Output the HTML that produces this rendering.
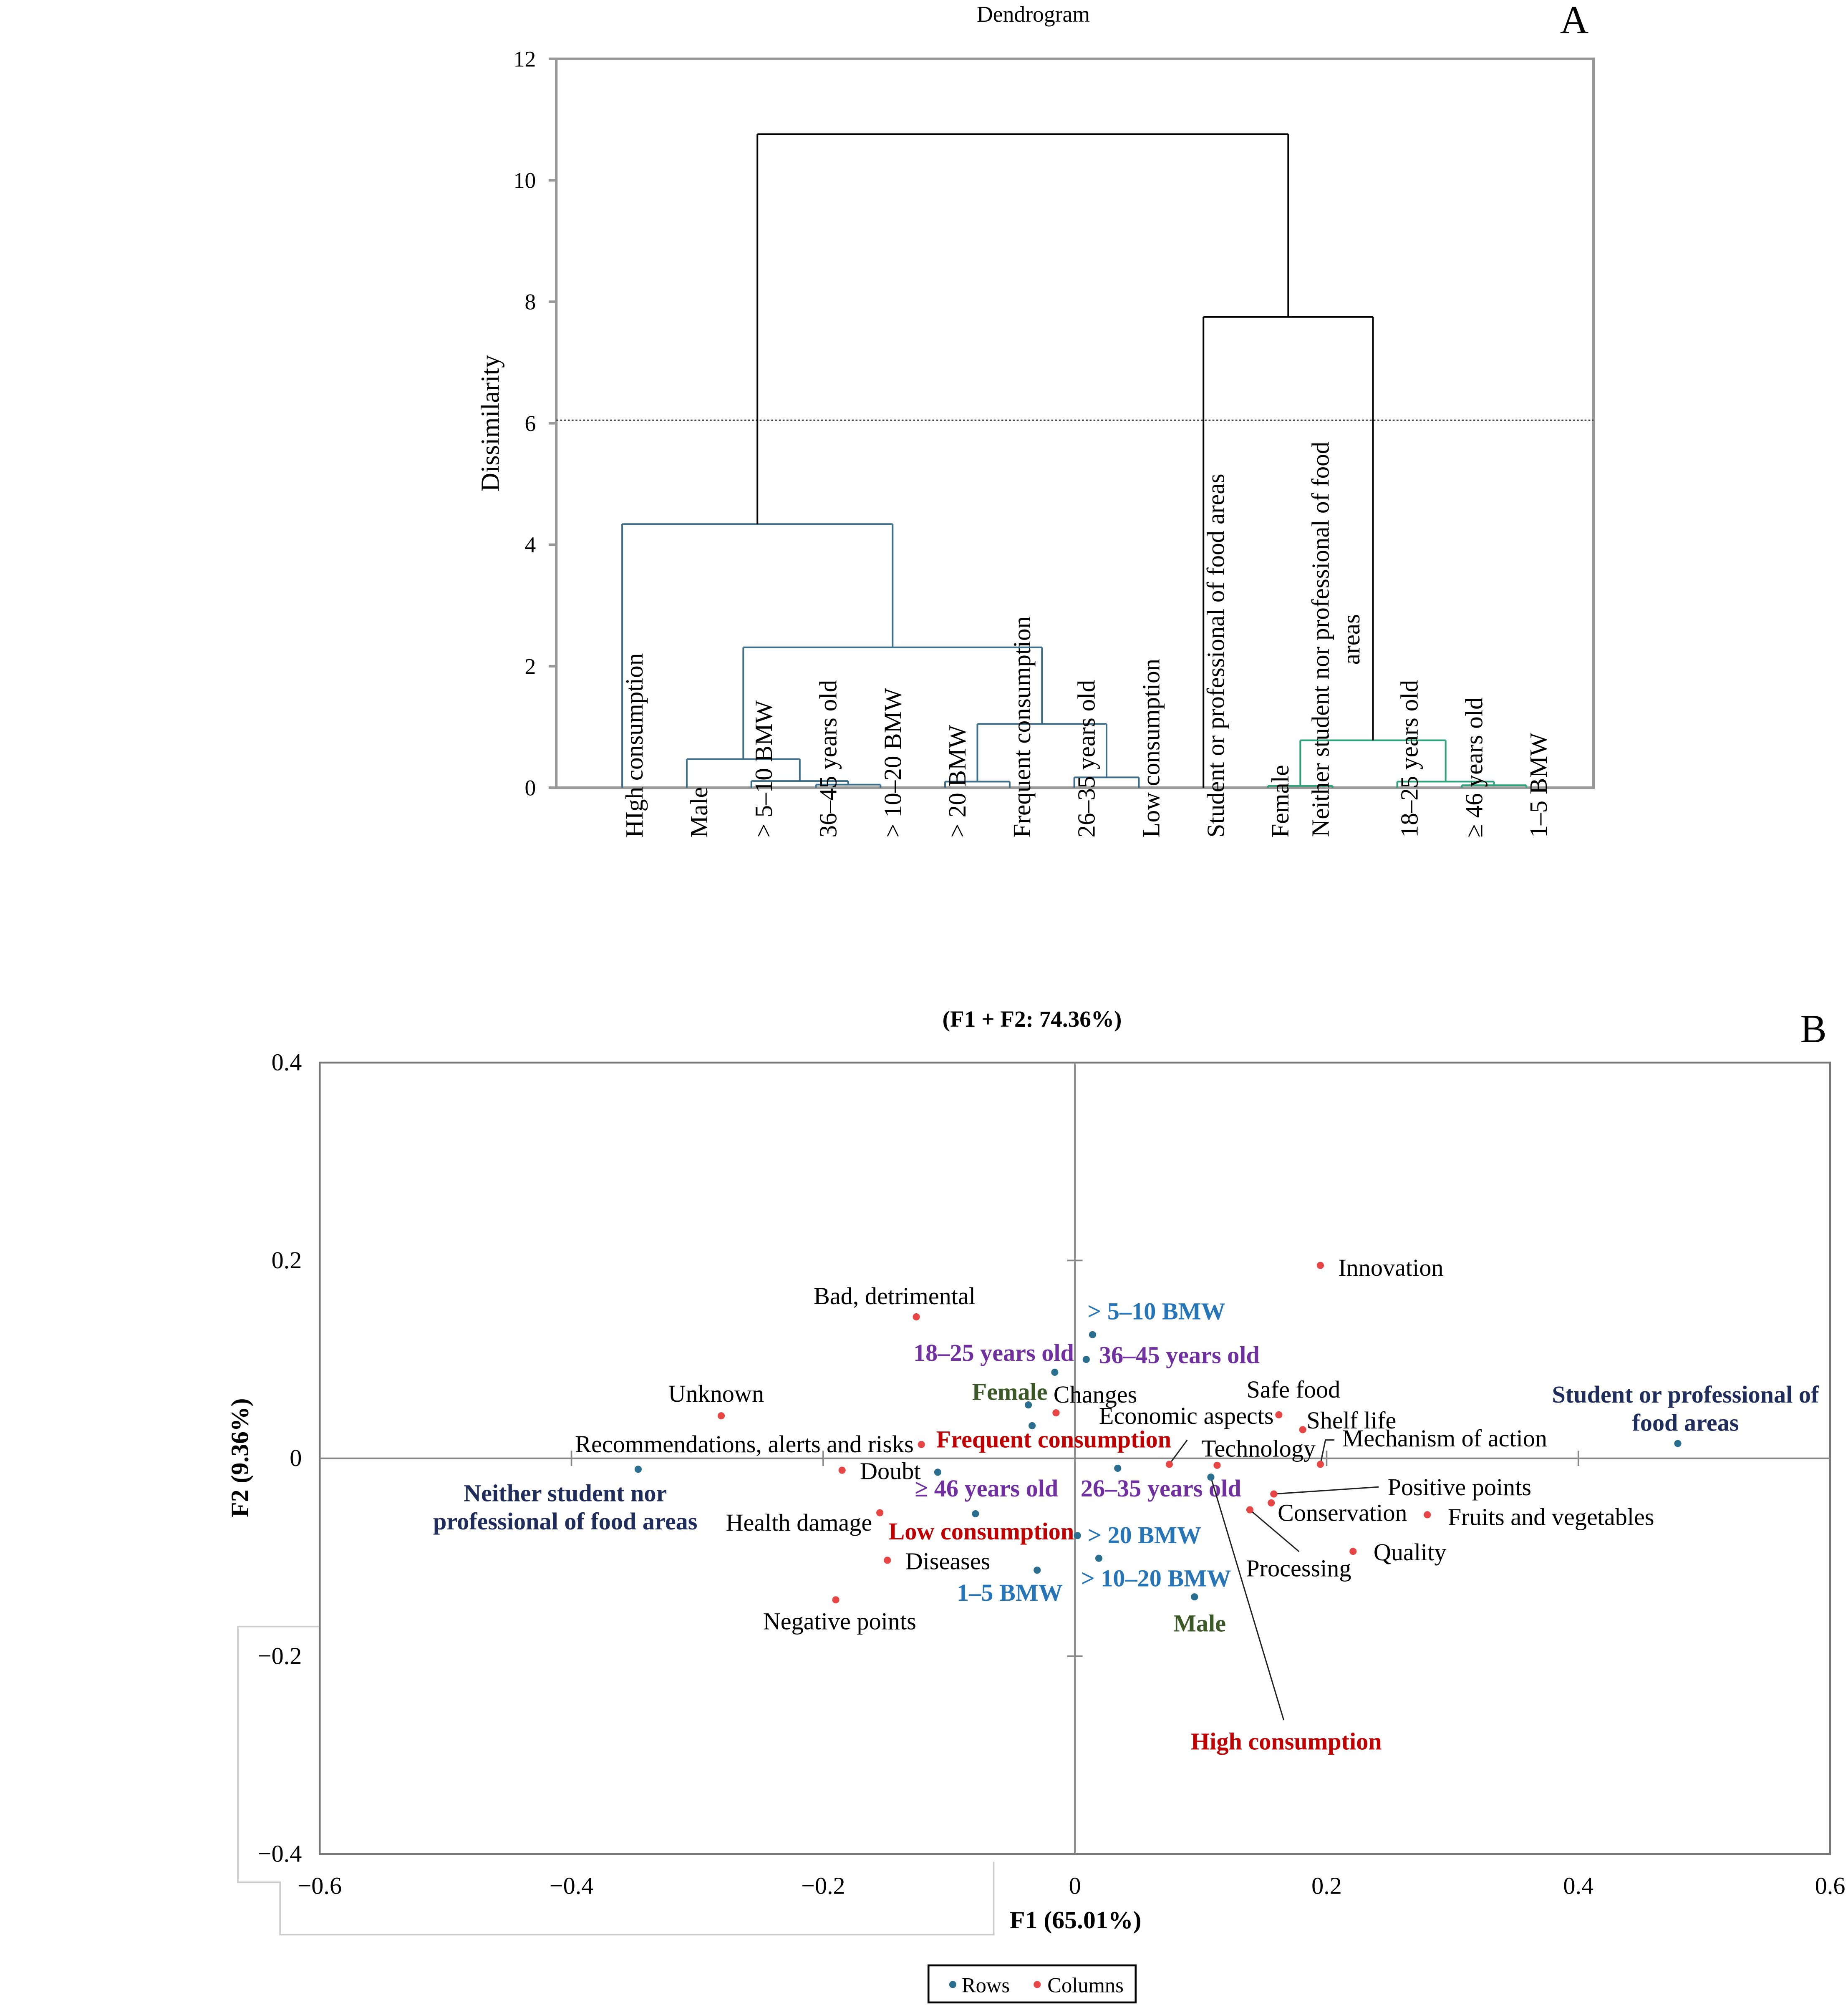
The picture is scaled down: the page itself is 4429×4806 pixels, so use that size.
<!DOCTYPE html>
<html><head><meta charset="utf-8"><style>
html,body{margin:0;padding:0;background:#fff}
svg{display:block}
text{font-family:"Liberation Serif",serif}
</style></head><body>
<svg id="root" xmlns="http://www.w3.org/2000/svg" width="4429" height="4806" viewBox="0 0 1445 1568">
<rect x="0" y="0" width="1445" height="1568" fill="#fff"/>
<g id="dendro"></g>
<g id="ca"></g>
</svg>
<script>
const NS="http://www.w3.org/2000/svg";
function mk(parent,tag,attrs,txt){const e=document.createElementNS(NS,tag);for(const k in attrs)e.setAttribute(k,attrs[k]);if(txt!==undefined)e.textContent=txt;parent.appendChild(e);return e;}

// ---------- Dendrogram data ----------
const leafLabels=["HIgh consumption","Male","> 5\u201310  BMW","36\u201345 years old","> 10\u201320 BMW","> 20 BMW","Frequent consumption","26\u201335 years old","Low consumption","Student or professional of food areas","Female","Neither student nor professional of food|areas","18\u201325 years old","\u2265 46  years old","1\u20135 BMW"];
const leafCluster=["b","b","b","b","b","b","b","b","b","k","g","g","g","g","g"];
const mergeA=[3,2,1,5,7,18,17,0,10,13,12,23,9,22];
const mergeB=[4,15,16,6,8,19,20,21,11,14,24,25,26,27];
const mergeH=[0.05,0.11,0.47,0.10,0.17,1.05,2.31,4.34,0.03,0.04,0.10,0.78,7.75,10.76];
const dTicks=[0,2,4,6,8,10,12];
const cutLevel=6.05;

// ---------- CA data ----------
const colNames=["Innovation","Bad, detrimental","Unknown","Recommendations, alerts and risks","Changes","Doubt","Health damage","Diseases","Negative points","Economic aspects","Shelf life","Technology","Safe food","Mechanism of action","Positive points","Conservation","Processing","Fruits and vegetables","Quality"];
const colF1=[0.195,-0.126,-0.281,-0.122,-0.015,-0.185,-0.155,-0.149,-0.190,0.162,0.181,0.075,0.113,0.195,0.158,0.156,0.139,0.280,0.221];
const colF2=[0.195,0.143,0.043,0.014,0.046,-0.012,-0.055,-0.103,-0.143,0.044,0.029,-0.006,-0.007,-0.006,-0.036,-0.045,-0.052,-0.057,-0.094];
const rowNames=["> 5\u201310 BMW","36\u201345 years old","18\u201325 years old","Female","Frequent consumption","\u2265 46 years old","Low consumption","26\u201335 years old","High consumption","> 20 BMW","> 10\u201320 BMW","1\u20135 BMW","Male","Neither student nor|professional of food areas","Student or professional of|food areas"];
const rowF1=[0.014,0.009,-0.016,-0.037,-0.034,-0.109,-0.079,0.034,0.108,0.002,0.019,-0.030,0.095,-0.347,0.479];
const rowF2=[0.125,0.100,0.087,0.054,0.033,-0.014,-0.056,-0.010,-0.019,-0.078,-0.101,-0.113,-0.140,-0.011,0.015];
const xTicks=[-0.6,-0.4,-0.2,0,0.2,0.4,0.6];
const yTicks=[0.4,0.2,0,-0.2,-0.4];

// ================= Dendrogram =================
(function(){
const g=document.getElementById('dendro');
const L=435,R=1246,T=46,B=616;
const yD=v=>B-v*(B-T)/12;
const xLeaf=i=>486.5+i*50.5;
const col={b:"#3d6e8a",g:"#2ea27a",k:"#000"};
const t=mk(g,'text',{x:808,y:17,'text-anchor':'middle','font-size':17.5});
t.textContent="Dendrogram";
const pa=mk(g,'text',{x:1231,y:26,'text-anchor':'middle','font-size':31},"A");

const fr=mk(g,'rect',{x:L,y:T,width:R-L,height:B-T,fill:'none',stroke:'#999','stroke-width':2});

dTicks.forEach(v=>{
  const tk=mk(g,'line',{x1:L-6,x2:L,y1:yD(v),y2:yD(v),stroke:'#999','stroke-width':2});
  
  const tl=mk(g,'text',{x:L-16,y:yD(v)+6,'text-anchor':'end','font-size':17.5},String(v));
  
});
const yl=mk(g,'text',{x:0,y:0,transform:'translate(390,331) rotate(-90)','text-anchor':'middle','font-size':20.5},"Dissimilarity");

const cut=mk(g,'line',{x1:L,x2:R,y1:yD(cutLevel),y2:yD(cutLevel),stroke:'#333','stroke-width':1,'stroke-dasharray':'1.5,1.5'});

const nx=[],nh=[],nc=[];
for(let i=0;i<leafLabels.length;i++){nx[i]=xLeaf(i);nh[i]=0;nc[i]=leafCluster[i];}
for(let k=0;k<mergeA.length;k++){
  const a=mergeA[k],b=mergeB[k],id=leafLabels.length+k,h=mergeH[k];
  nx[id]=(nx[a]+nx[b])/2;nh[id]=h;nc[id]=(nc[a]===nc[b])?nc[a]:'k';
  const c=col[nc[id]];
  [a,b].forEach(ch=>{
    const lc=nc[id]==='k'?'#000':col[nc[ch]];
    const v=mk(g,'line',{x1:nx[ch],x2:nx[ch],y1:yD(nh[ch]),y2:yD(h),stroke:lc,'stroke-width':1.3});
    
  });
  const hz=mk(g,'line',{x1:nx[a],x2:nx[b],y1:yD(h),y2:yD(h),stroke:c,'stroke-width':1.3});
  
}
leafLabels.forEach((s,i)=>{
  const parts=s.split('|');
  if(parts.length===1){
    const lt=mk(g,'text',{x:0,y:0,transform:`translate(${xLeaf(i)+16},655) rotate(-90)`,'font-size':19.3},s);
    
  }else{
    const lt=mk(g,'text',{x:0,y:0,transform:`translate(${xLeaf(i)-3},500) rotate(-90)`,'text-anchor':'middle','font-size':19.3},parts[0]);
    
    const lt2=mk(g,'text',{x:0,y:0,transform:`translate(${xLeaf(i)+21},500) rotate(-90)`,'text-anchor':'middle','font-size':19.3},parts[1]);
    
  }
});
})();

// ================= CA biplot =================
(function(){
const g=document.getElementById('ca');
const L=250,R=1431,T=831,B=1450;
const xS=v=>L+(v+0.6)*(R-L)/1.2;
const yS=v=>T+(0.4-v)*(B-T)/0.8;
const FS=19;
const tt=mk(g,'text',{x:807,y:803,'text-anchor':'middle','font-size':18,'font-weight':'bold'},"(F1 + F2: 74.36%)");

const pb=mk(g,'text',{x:1418,y:815,'text-anchor':'middle','font-size':31},"B");

const art=mk(g,'polyline',{points:"250,1272 186,1272 186,1472 219,1472 219,1513 777,1513 777,1456",fill:'none',stroke:'#ccc','stroke-width':1.2});

const fr=mk(g,'rect',{x:L,y:T,width:R-L,height:B-T,fill:'none',stroke:'#777','stroke-width':1.5});

const ax=mk(g,'line',{x1:L,x2:R,y1:yS(0),y2:yS(0),stroke:'#888','stroke-width':1.3});

const ay=mk(g,'line',{x1:xS(0),x2:xS(0),y1:T,y2:B,stroke:'#888','stroke-width':1.3});

xTicks.forEach(v=>{
  if(v!==0&&Math.abs(v)<0.6){const tk=mk(g,'line',{x1:xS(v),x2:xS(v),y1:yS(0)-6,y2:yS(0)+6,stroke:'#888','stroke-width':1.2});
  }
  const tl=mk(g,'text',{x:xS(v),y:1481,'text-anchor':'middle','font-size':FS},(v<0?'\u2212':'')+(v===0?'0':Math.abs(v).toFixed(1)));
  
});
yTicks.forEach(v=>{
  if(v!==0&&Math.abs(v)<0.4){const tk=mk(g,'line',{x1:xS(0)-6,x2:xS(0)+6,y1:yS(v),y2:yS(v),stroke:'#888','stroke-width':1.2});
  }
  const tl=mk(g,'text',{x:236,y:yS(v)+6,'text-anchor':'end','font-size':FS},(v<0?'\u2212':'')+(v===0?'0':Math.abs(v).toFixed(1)));
  
});
const xl=mk(g,'text',{x:841,y:1508,'text-anchor':'middle','font-size':19.5,'font-weight':'bold'},"F1 (65.01%)");

const yl=mk(g,'text',{x:0,y:0,transform:'translate(194,1140) rotate(-90)','text-anchor':'middle','font-size':19.5,'font-weight':'bold'},"F2 (9.36%)");


const colLab=[[14,8,'start'],[-17,-10,'middle'],[-4,-11,'middle'],[-6,6,'end'],[-2,-8,'start'],[14,7,'start'],[-6,14,'end'],[14,7,'start'],[3,23,'middle'],[-4,7,'end'],[3,-1,'start'],[25,-6,'start'],[23,-53,'start'],[17,-14,'start'],[89,1,'start'],[5,14,'start'],[-3,52,'start'],[16,8,'start'],[16,7,'start']];
const colLeader={11:[14,-19],13:'bracket',14:[82,-5.5],16:[38.5,32.7]};
const rowLab=[[-4,-12,'start','#2575b8'],[10,3,'start','#7030a0'],[15,-9,'end','#7030a0'],[15,-4,'end','#3c5a28'],[-75,17,'start','#c00000'],[-18,19,'start','#7030a0'],[-68,20,'start','#c00000'],[-29,22,'start','#7030a0'],[59,213,'middle','#c00000'],[8,6,'start','#2575b8'],[-14,22,'start','#2575b8'],[20,24,'end','#2575b8'],[4,27,'middle','#3c5a28'],[-57,25,'middle','#1f2d5c'],[6,-32,'middle','#1f2d5c']];

colNames.forEach((n,i)=>{
  const px=xS(colF1[i]),py=yS(colF2[i]);
  const lb=colLab[i];
  const ld=colLeader[i];
  if(ld==='bracket'){
    const p=mk(g,'polyline',{points:`${px},${py} ${px+4},${py-19} ${px+11},${py-19}`,fill:'none',stroke:'#222','stroke-width':1});
    
  }else if(ld){
    const p=mk(g,'line',{x1:px,y1:py,x2:px+ld[0],y2:py+ld[1],stroke:'#222','stroke-width':1});
    
  }
  const c=mk(g,'circle',{cx:px,cy:py,r:2.8,fill:'#e84545'});
  
  const t=mk(g,'text',{x:px+lb[0],y:py+lb[1],'text-anchor':lb[2],'font-size':FS},n);
  
});
rowNames.forEach((n,i)=>{
  const px=xS(rowF1[i]),py=yS(rowF2[i]);
  const lb=rowLab[i];
  if(i===8){
    const p=mk(g,'line',{x1:px,y1:py,x2:px+57,y2:py+190,stroke:'#222','stroke-width':1});
    
  }
  const c=mk(g,'circle',{cx:px,cy:py,r:2.8,fill:'#2a6f8f'});
  
  const parts=n.split('|');
  parts.forEach((s,j)=>{
    const t=mk(g,'text',{x:px+lb[0],y:py+lb[1]+j*22,'text-anchor':lb[2],'font-size':FS,'font-weight':'bold',fill:lb[3]},s);
    
  });
});
const lg=mk(g,'g',{});

const lr=mk(lg,'rect',{x:726,y:1537,width:162,height:29,fill:'#fff',stroke:'#000','stroke-width':1.5});

const d1=mk(lg,'circle',{cx:745,cy:1552,r:2.8,fill:'#2a6f8f'});

const t1=mk(lg,'text',{x:752,y:1558,'font-size':16.5},"Rows");

const d2=mk(lg,'circle',{cx:811,cy:1552,r:2.8,fill:'#e84545'});

const t2=mk(lg,'text',{x:819,y:1558,'font-size':16.5},"Columns");

})();
</script>
</body></html>
